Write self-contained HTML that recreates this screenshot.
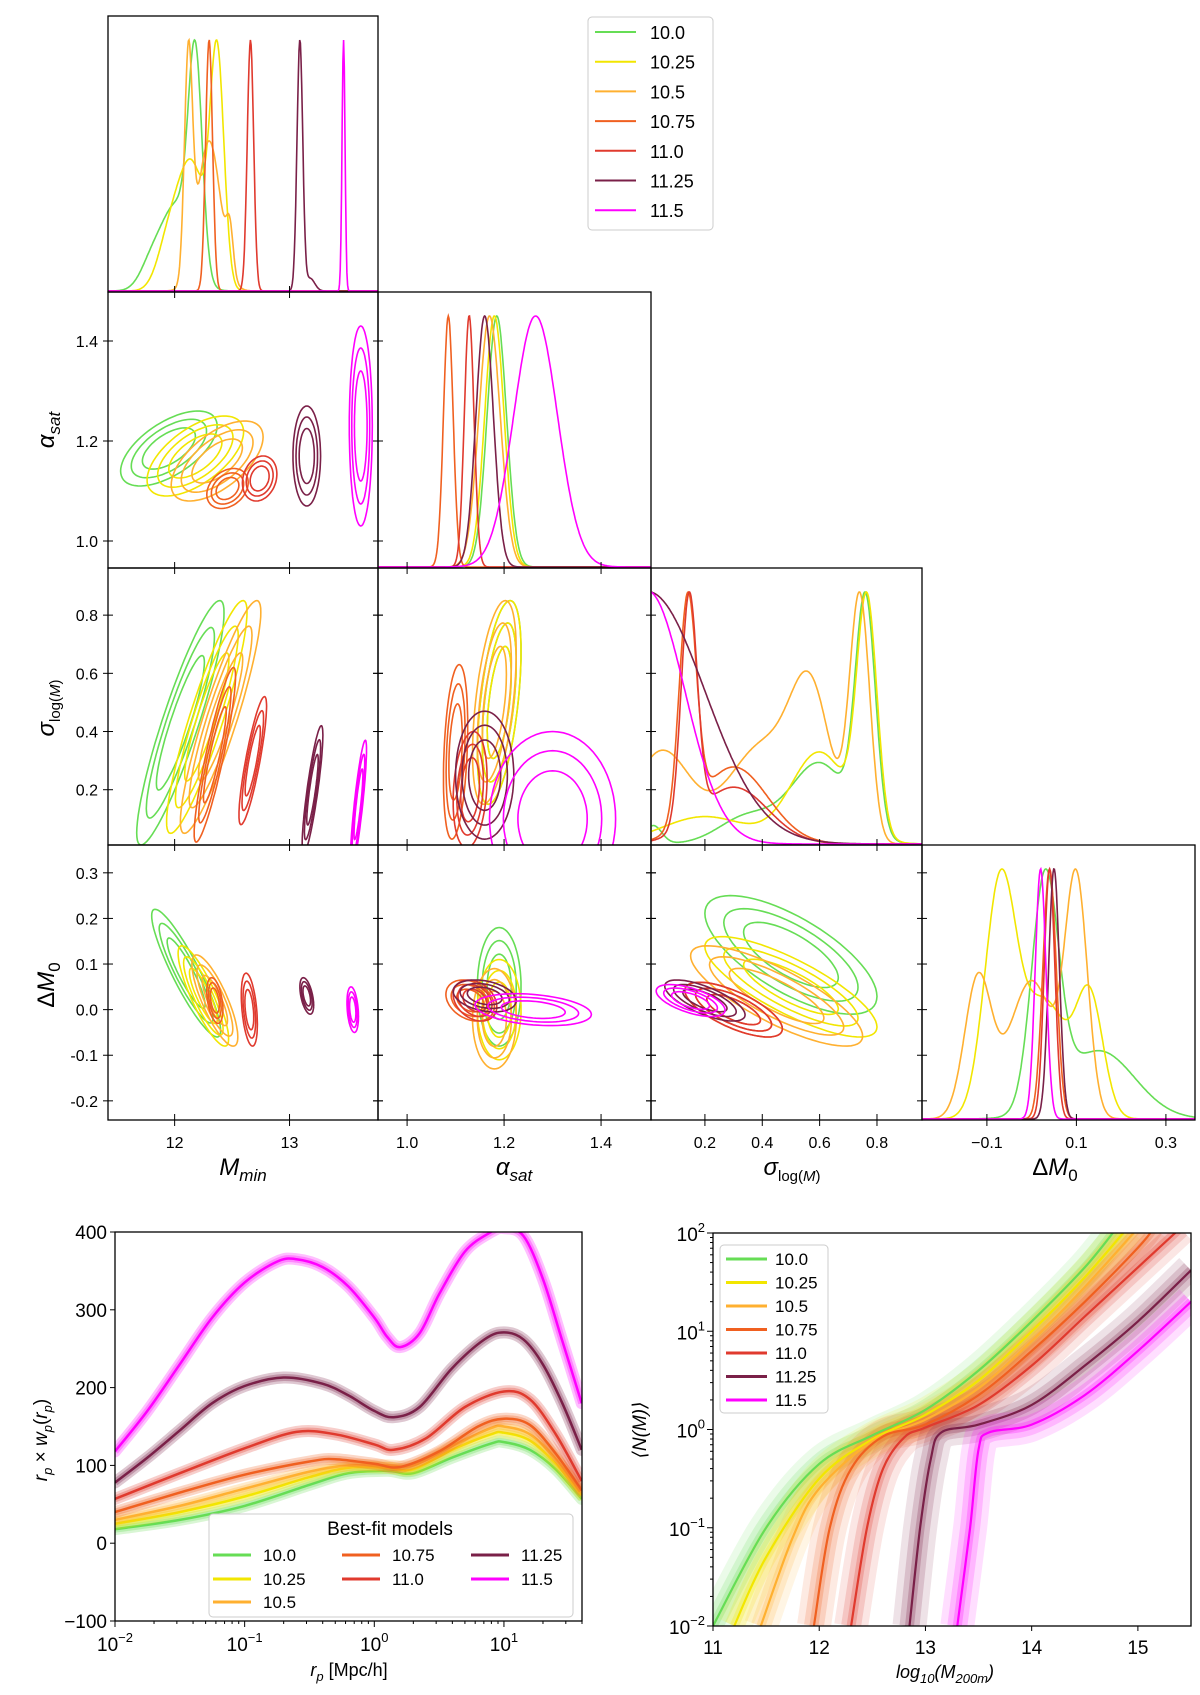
<!DOCTYPE html>
<html><head><meta charset="utf-8"><style>
body{margin:0;background:#fff;}
svg text{font-family:"Liberation Sans","DejaVu Sans",sans-serif;fill:#000;}
</style></head><body>
<svg id="fig" width="1200" height="1690" viewBox="0 0 1200 1690" xmlns="http://www.w3.org/2000/svg">
<defs id="defs"></defs>
<g id="root"></g>
</svg>
<script>
// ---------- data ----------
const seriesNames = ['10.0','10.25','10.5','10.75','11.0','11.25','11.5'];
const seriesColors = ['#66dd55','#f2e600','#ffb030','#f06020','#e03a2e','#7a2048','#ff00ff'];
// 1D marginals: gaussian components [mean, sd, amp]
const mminComps = [[[12.18,0.06,1],[12.02,0.13,0.4],[11.8,0.1,0.12]],[[12.37,0.06,1],[12.15,0.12,0.55],[11.95,0.1,0.2]],[[12.12,0.035,1],[12.3,0.1,0.68],[12.48,0.03,0.2]],[[12.3,0.03,1]],[[12.66,0.028,1]],[[13.09,0.025,1],[13.18,0.04,0.05]],[[13.47,0.013,1]]];
const alphaComps = [[[1.185,0.02,1]],[[1.18,0.02,1]],[[1.17,0.022,1]],[[1.085,0.01,1]],[[1.128,0.01,1]],[[1.16,0.018,1]],[[1.265,0.045,1]]];
const sigmaComps = [[[0.76,0.035,1],[0.6,0.1,0.35],[0.35,0.1,0.12],[0.02,0.03,0.08]],[[0.765,0.035,1],[0.6,0.1,0.4],[0.2,0.15,0.12]],[[0.74,0.035,1],[0.57,0.07,0.55],[0.4,0.12,0.4],[0.05,0.1,0.38]],[[0.14,0.03,1],[0.3,0.12,0.35]],[[0.145,0.028,1],[0.3,0.12,0.25]],[[0.0,0.2,1]],[[0.0,0.13,1]]];
const dm0Comps = [[[0.03,0.03,1],[0.15,0.08,0.3]],[[-0.07,0.035,1],[0.13,0.03,0.5],[0.03,0.05,0.5]],[[0.1,0.025,1],[-0.12,0.03,0.6],[0.0,0.05,0.6]],[[0.04,0.015,1]],[[0.04,0.012,1]],[[0.05,0.012,1]],[[0.02,0.012,1]]];
// 2D contours: [cx, cy, sx, sy, rho] (outer level half-extents)
const alphaVsMmin = [[11.95,1.185,0.42,0.075,0.6],[12.18,1.17,0.42,0.08,0.6],[12.37,1.16,0.4,0.08,0.6],[12.46,1.105,0.18,0.04,0.3],[12.74,1.125,0.15,0.045,0.2],[13.15,1.17,0.12,0.1,0.0],[13.62,1.23,0.1,0.2,0.0]];
const sigmaVsMmin = [[12.05,0.43,0.38,0.42,0.9],[12.28,0.45,0.35,0.4,0.9],[12.4,0.45,0.35,0.4,0.9],[12.35,0.32,0.18,0.3,0.9],[12.68,0.3,0.12,0.22,0.85],[13.2,0.2,0.09,0.22,0.85],[13.6,0.15,0.07,0.22,0.85]];
const dm0VsMmin = [[12.1,0.08,0.3,0.14,-0.9],[12.25,0.03,0.22,0.11,-0.85],[12.35,0.02,0.2,0.1,-0.8],[12.35,0.02,0.07,0.05,-0.4],[12.65,0.0,0.07,0.08,-0.4],[13.15,0.03,0.06,0.04,-0.5],[13.55,0.0,0.05,0.05,-0.3]];
const sigmaVsAlpha = [[1.19,0.5,0.045,0.35,0.5],[1.19,0.5,0.045,0.35,0.5],[1.18,0.5,0.045,0.35,0.5],[1.1,0.33,0.025,0.3,0.3],[1.13,0.2,0.035,0.2,0.2],[1.16,0.25,0.06,0.22,0.0],[1.3,0.1,0.13,0.3,0.0]];
const dm0VsAlpha = [[1.19,0.05,0.045,0.13,0.0],[1.19,0.0,0.045,0.11,0.0],[1.18,-0.02,0.045,0.11,0.0],[1.13,0.02,0.05,0.045,-0.3],[1.14,0.02,0.045,0.045,-0.3],[1.16,0.03,0.065,0.035,-0.3],[1.26,0.0,0.12,0.035,-0.3]];
const dm0VsSigma = [[0.5,0.12,0.3,0.13,-0.7],[0.5,0.05,0.3,0.11,-0.8],[0.45,0.03,0.3,0.11,-0.8],[0.3,0.0,0.17,0.06,-0.7],[0.3,0.0,0.17,0.06,-0.7],[0.2,0.02,0.14,0.045,-0.7],[0.15,0.02,0.12,0.035,-0.6]];
// projected clustering: log10(rp) sample points and r_p*w_p values
const wpLogR = [[-2,-1.5,-1,-0.5,-0.2,0.1,0.3,0.6,0.9,1.0,1.2,1.4,1.6],[-2,-1.5,-1,-0.5,-0.2,0.1,0.3,0.6,0.9,1.0,1.2,1.4,1.6],[-2,-1.5,-1,-0.5,-0.2,0.1,0.3,0.6,0.9,1.0,1.2,1.4,1.6],[-2,-1.5,-1,-0.5,-0.3,0,0.2,0.5,0.8,1.0,1.2,1.4,1.6],[-2,-1.5,-1,-0.6,-0.3,0,0.15,0.4,0.7,1.0,1.2,1.4,1.6],[-2,-1.75,-1.5,-1.25,-1,-0.7,-0.4,-0.2,0,0.15,0.35,0.6,0.85,1.0,1.15,1.3,1.45,1.6],[-2,-1.75,-1.5,-1.25,-1,-0.75,-0.6,-0.4,-0.2,0,0.1,0.2,0.35,0.5,0.7,0.9,1.0,1.15,1.3,1.45,1.6]];
const wpValues = [[18,30,48,75,90,93,90,110,128,130,120,95,57],[25,40,60,85,97,97,95,120,140,142,132,102,62],[30,48,70,92,100,100,100,125,148,150,140,108,65],[40,65,88,105,108,102,98,118,150,160,152,115,68],[57,90,122,143,140,127,120,135,175,195,185,140,80],[78,110,145,180,202,213,205,190,170,162,175,225,262,271,262,230,180,120],[118,170,230,290,335,362,365,355,330,290,265,252,270,320,375,400,405,395,340,260,180]];
// HOD: log10 M sample points and log10 <N(M)>
const hodLogM = [[11,11.5,12,12.5,13,13.5,14,14.5,14.8],[11.2,11.5,12,12.5,13,13.5,14,14.5,14.9],[11.45,11.75,12,12.5,13,13.5,14,14.5,15.0],[11.95,12.1,12.3,12.6,13,13.5,14,14.5,15,15.15],[12.3,12.45,12.6,12.8,13,13.5,14,14.5,15,15.4],[12.85,12.95,13.05,13.15,13.5,14,14.5,15,15.5],[13.3,13.42,13.5,13.6,14,14.5,15,15.5]];
const hodLogN = [[-2,-1.0,-0.35,-0.06,0.2,0.6,1.1,1.65,2.05],[-2,-1.3,-0.5,-0.1,0.15,0.5,1.0,1.55,2.05],[-2,-1.1,-0.6,-0.12,0.1,0.42,0.9,1.45,2.05],[-2,-1,-0.4,-0.07,0.05,0.35,0.8,1.3,1.85,2.05],[-2,-1,-0.4,-0.08,0.02,0.25,0.65,1.15,1.65,2.05],[-2,-1,-0.3,-0.03,0.05,0.25,0.65,1.1,1.62],[-2,-1,-0.2,-0.03,0.05,0.35,0.8,1.3]];
const mminTicks=[12,13], alphaTicks=[1.0,1.2,1.4], sigmaTicks=[0.2,0.4,0.6,0.8], dm0Ticks=[-0.1,0.1,0.3], dm0YTicks=[0.3,0.2,0.1,0.0,-0.1,-0.2];
const wpYTicks=[400,300,200,100,0,-100], wpXTicks=[-2,-1,0,1], hodXTicks=[11,12,13,14,15], hodYTicks=[2,1,0,-1,-2];

// ---------- helpers ----------
const NS='http://www.w3.org/2000/svg';
const root=document.getElementById('root'), defs=document.getElementById('defs');
function mk(tag,attrs,parent){const e=document.createElementNS(NS,tag);for(const k in attrs)e.setAttribute(k,attrs[k]);(parent||root).appendChild(e);return e;}
function txt(s,x,y,size,anchor,parent,extra){const t=mk('text',Object.assign({x:x,y:y,'font-size':size,'text-anchor':anchor||'middle'},extra||{}),parent);t.textContent=s;return t;}
function lin(d0,d1,p0,p1){return v=>p0+(v-d0)*(p1-p0)/(d1-d0);}
let clipId=0;
function clipFor(x0,y0,x1,y1){const id='c'+(clipId++);const cp=mk('clipPath',{id:id},defs);mk('rect',{x:x0,y:y0,width:x1-x0,height:y1-y0},cp);return 'url(#'+id+')';}
function catmull(pts){let d='M'+pts[0][0].toFixed(1)+','+pts[0][1].toFixed(1);for(let i=0;i<pts.length-1;i++){const p0=pts[Math.max(0,i-1)],p1=pts[i],p2=pts[i+1],p3=pts[Math.min(pts.length-1,i+2)];const c1=[p1[0]+(p2[0]-p0[0])/6,p1[1]+(p2[1]-p0[1])/6],c2=[p2[0]-(p3[0]-p1[0])/6,p2[1]-(p3[1]-p1[1])/6];d+=' C'+c1[0].toFixed(1)+','+c1[1].toFixed(1)+' '+c2[0].toFixed(1)+','+c2[1].toFixed(1)+' '+p2[0].toFixed(1)+','+p2[1].toFixed(1);}return d;}

// ---------- corner plot ----------
const XE=[108,378,651,922,1195], YE=[16,292,568,845,1120];
const ranges={mmin:[11.42,13.77],alpha:[0.94,1.503],sigma:[0.012,0.957],dm0:[-0.245,0.365]};
const yranges={alpha:[0.946,1.498],sigma:[0.01,0.962],dm0:[-0.242,0.361]};
const params=['mmin','alpha','sigma','dm0'];
const xTicksFor={mmin:mminTicks,alpha:alphaTicks,sigma:sigmaTicks,dm0:dm0Ticks};
const yTicksFor={alpha:[1.4,1.2,1.0],sigma:[0.8,0.6,0.4,0.2],dm0:dm0YTicks};
const compsFor={mmin:mminComps,alpha:alphaComps,sigma:sigmaComps,dm0:dm0Comps};
const pairData={'1_0':alphaVsMmin,'2_0':sigmaVsMmin,'3_0':dm0VsMmin,'2_1':sigmaVsAlpha,'3_1':dm0VsAlpha,'3_2':dm0VsSigma};
function fmt(v,p){return (v<0?'\u2212':'')+Math.abs(v).toFixed(p);}

for(let r=0;r<4;r++){for(let c=0;c<=r;c++){
  const x0=XE[c],x1=XE[c+1],y0=YE[r],y1=YE[r+1];
  const g=mk('g',{});
  
  
  const xs=lin(ranges[params[c]][0],ranges[params[c]][1],x0,x1);
  const cg=mk('g',{'clip-path':clipFor(x0,y0,x1,y1)},g);
  if(r===c){
    const comps=compsFor[params[c]];
    const lo=ranges[params[c]][0],hi=ranges[params[c]][1];
    comps.forEach((cs,si)=>{
      const vals=[];let mx=0;
      for(let i=0;i<=400;i++){const v=lo+(hi-lo)*i/400;let s=0;cs.forEach(q=>{s+=q[2]*Math.exp(-0.5*((v-q[0])/q[1])**2);});vals.push([v,s]);if(s>mx)mx=s;}
      const ys=lin(0,mx,y1-1,y0+24);
      let d='';vals.forEach((p,i)=>{d+=(i?'L':'M')+xs(p[0]).toFixed(1)+','+ys(p[1]).toFixed(1);});
      const path=mk('path',{d:d,fill:'none',stroke:seriesColors[si],'stroke-width':1.6},cg);
      
      
    });
  } else {
    const ys=lin(yranges[params[r]][0],yranges[params[r]][1],y1,y0);
    pairData[r+'_'+c].forEach((e,si)=>{
      [0.55,0.78,1.0].forEach(k=>{
        let d='';const s=Math.sqrt(1-e[4]*e[4]);
        for(let i=0;i<=72;i++){const t=i/72*2*Math.PI;const vx=e[0]+k*e[2]*Math.cos(t);const vy=e[1]+k*e[3]*(e[4]*Math.cos(t)+s*Math.sin(t));d+=(i?'L':'M')+xs(vx).toFixed(1)+','+ys(vy).toFixed(1);}
        const p=mk('path',{d:d+'Z',fill:'none',stroke:seriesColors[si],'stroke-width':1.6},cg);
        
        
      });
    });
    yTicksFor[params[r]].forEach(v=>{const y=ys(v);mk('line',{x1:x0-5,x2:x0+5,y1:y,y2:y,stroke:'#000','stroke-width':1},g);mk('line',{x1:x1-5,x2:x1+5,y1:y,y2:y,stroke:'#000','stroke-width':1},g);
      if(c===0){const t=txt(v.toFixed(1),x0-10,y+6,16,'end',g);}});
  }
  xTicksFor[params[c]].forEach(v=>{const x=xs(v);mk('line',{x1:x,x2:x,y1:y1-6,y2:y1+6,stroke:'#000','stroke-width':1},g);
    if(r===3){const t=txt(params[c]==='mmin'?String(v):(params[c]==='alpha'?v.toFixed(1):fmt(v,1)),x,y1+28,16,'middle',g);}});
  mk('rect',{x:x0,y:y0,width:x1-x0,height:y1-y0,fill:'none',stroke:'#000','stroke-width':1.3},g);
}}
// corner axis labels
function addLabel(html,x,y,rot,name){const t=mk('text',{x:x,y:y,'font-size':24,'text-anchor':'middle',transform:rot?('rotate(-90 '+x+' '+y+')'):''});t.innerHTML=html;return t;}
addLabel('<tspan font-style="italic">M</tspan><tspan font-size="17" dy="6" font-style="italic">min</tspan>',243,1175,false,'x-axis-title-mmin');
addLabel('<tspan font-style="italic">α</tspan><tspan font-size="17" dy="6" font-style="italic">sat</tspan>',514,1175,false,'x-axis-title-alpha');
addLabel('<tspan font-style="italic">σ</tspan><tspan font-size="15" dy="6">log(</tspan><tspan font-size="15" font-style="italic">M</tspan><tspan font-size="15">)</tspan>',792,1175,false,'x-axis-title-sigma');
addLabel('Δ<tspan font-style="italic">M</tspan><tspan font-size="17" dy="6">0</tspan>',1055,1175,false,'x-axis-title-dm0');
addLabel('<tspan font-style="italic">α</tspan><tspan font-size="17" dy="6" font-style="italic">sat</tspan>',54,430,true,'y-axis-title-alpha');
addLabel('<tspan font-style="italic">σ</tspan><tspan font-size="15" dy="6">log(</tspan><tspan font-size="15" font-style="italic">M</tspan><tspan font-size="15">)</tspan>',54,708,true,'y-axis-title-sigma');
addLabel('Δ<tspan font-style="italic">M</tspan><tspan font-size="17" dy="6">0</tspan>',54,985,true,'y-axis-title-dm0');
// corner legend
(function(){const g=mk('g',{});
mk('rect',{x:588,y:17,width:125,height:213,rx:4,fill:'#fff',stroke:'#ccc','stroke-width':1},g);
seriesNames.forEach((n,i)=>{const y=32+i*29.7;const e=mk('g',{},g);
mk('line',{x1:595,x2:636,y1:y,y2:y,stroke:seriesColors[i],'stroke-width':2},e);txt(n,650,y+7,18,'start',e);});})();

// ---------- wp panel ----------
(function(){
const X0=115,X1=582,Y0=1232,Y1=1621;
const g=mk('g',{});
const xs=lin(-2,Math.log10(40),X0,X1), ys=lin(-100,400,Y1,Y0);
const cg=mk('g',{'clip-path':clipFor(X0,Y0,X1,Y1)},g);
seriesNames.forEach((n,si)=>{
  const pts=wpLogR[si].map((lx,i)=>[xs(lx),ys(wpValues[si][i])]);const d=catmull(pts);
  mk('path',{d:d,fill:'none',stroke:seriesColors[si],'stroke-width':12,'stroke-opacity':0.25,'stroke-linecap':'round'},cg);
  mk('path',{d:d,fill:'none',stroke:seriesColors[si],'stroke-width':7,'stroke-opacity':0.3},cg);
  const l=mk('path',{d:d,fill:'none',stroke:seriesColors[si],'stroke-width':2.5},cg);
  
});
mk('rect',{x:X0,y:Y0,width:X1-X0,height:Y1-Y0,fill:'none',stroke:'#000','stroke-width':1.3},g);
wpYTicks.forEach(v=>{const y=ys(v);mk('line',{x1:X0-5,x2:X0,y1:y,y2:y,stroke:'#000'},g);const t=txt(v<0?'\u2212'+(-v):String(v),X0-8,y+7,19,'end',g);});
for(let dec=-2;dec<=1;dec++){for(let m=1;m<10;m++){const lx=dec+Math.log10(m);if(lx>Math.log10(40))break;const x=xs(lx);mk('line',{x1:x,x2:x,y1:Y1,y2:Y1+(m===1?6:3),stroke:'#000'},g);}}
wpXTicks.forEach(v=>{const t=mk('text',{x:xs(v),y:Y1+30,'font-size':19,'text-anchor':'middle'},g);t.innerHTML='10<tspan font-size="13" dy="-9">'+(v<0?'\u2212'+(-v):v)+'</tspan>';});
const xl=mk('text',{x:349,y:1676,'font-size':18,'text-anchor':'middle'},g);xl.innerHTML='<tspan font-style="italic">r</tspan><tspan font-size="13" dy="5" font-style="italic">p</tspan><tspan dy="-5"> [Mpc/h]</tspan>';
const yl=mk('text',{x:47,y:1440,'font-size':19,'text-anchor':'middle',transform:'rotate(-90 47 1440)'},g);yl.innerHTML='<tspan font-style="italic">r</tspan><tspan font-size="13" dy="5" font-style="italic">p</tspan><tspan dy="-5"> × </tspan><tspan font-style="italic">w</tspan><tspan font-size="13" dy="5" font-style="italic">p</tspan><tspan dy="-5">(</tspan><tspan font-style="italic">r</tspan><tspan font-size="13" dy="5" font-style="italic">p</tspan><tspan dy="-5">)</tspan>';
const lg=mk('g',{},g);
mk('rect',{x:209,y:1514,width:364,height:103,rx:4,fill:'#fff','fill-opacity':0.9,stroke:'#ccc'},lg);
txt('Best-fit models',390,1535,19,'middle',lg);
const pos=[[213,1555],[213,1579],[213,1602],[342,1555],[342,1579],[471,1555],[471,1579]];
seriesNames.forEach((n,i)=>{const e=mk('g',{},lg);
mk('line',{x1:pos[i][0],x2:pos[i][0]+38,y1:pos[i][1],y2:pos[i][1],stroke:seriesColors[i],'stroke-width':3},e);txt(n,pos[i][0]+50,pos[i][1]+6,17,'start',e);});
})();

// ---------- HOD panel ----------
(function(){
const X0=713,X1=1191,Y0=1233,Y1=1626;
const g=mk('g',{});
const xs=lin(11,15.5,X0,X1), ys=lin(-2,2,Y1,Y0);
const cg=mk('g',{'clip-path':clipFor(X0,Y0,X1,Y1)},g);
seriesNames.forEach((n,si)=>{
  const pts=hodLogM[si].map((lm,i)=>[xs(lm),ys(hodLogN[si][i])]);const d=catmull(pts);
  mk('path',{d:d,fill:'none',stroke:seriesColors[si],'stroke-width':34,'stroke-opacity':0.13},cg);
  mk('path',{d:d,fill:'none',stroke:seriesColors[si],'stroke-width':20,'stroke-opacity':0.18},cg);
  mk('path',{d:d,fill:'none',stroke:seriesColors[si],'stroke-width':9,'stroke-opacity':0.25},cg);
});
seriesNames.forEach((n,si)=>{
  const pts=hodLogM[si].map((lm,i)=>[xs(lm),ys(hodLogN[si][i])]);
  const l=mk('path',{d:catmull(pts),fill:'none',stroke:seriesColors[si],'stroke-width':2.2},cg);
  
});
mk('rect',{x:X0,y:Y0,width:X1-X0,height:Y1-Y0,fill:'none',stroke:'#000','stroke-width':1.3},g);
hodXTicks.forEach(v=>{const x=xs(v);mk('line',{x1:x,x2:x,y1:Y1,y2:Y1+5,stroke:'#000'},g);const t=txt(String(v),x,Y1+28,19,'middle',g);});
for(let dec=-2;dec<2;dec++){for(let m=2;m<10;m++){const y=ys(dec+Math.log10(m));mk('line',{x1:X0-3,x2:X0,y1:y,y2:y,stroke:'#000'},g);}}
hodYTicks.forEach(v=>{const y=ys(v);mk('line',{x1:X0-6,x2:X0,y1:y,y2:y,stroke:'#000'},g);const t=mk('text',{x:X0-8,y:y+8,'font-size':19,'text-anchor':'end'},g);t.innerHTML='10<tspan font-size="13" dy="-9">'+(v<0?'\u2212'+(-v):v)+'</tspan>';});
const xl=mk('text',{x:945,y:1678,'font-size':18,'text-anchor':'middle','font-style':'italic'},g);xl.innerHTML='log<tspan font-size="13" dy="5">10</tspan><tspan dy="-5">(M</tspan><tspan font-size="13" dy="5">200m</tspan><tspan dy="-5">)</tspan>';
const yl=txt('\u27E8N(M)\u27E9',646,1430,19,'middle',g,{transform:'rotate(-90 646 1430)','font-style':'italic'});
const lg=mk('g',{},g);
mk('rect',{x:720,y:1245,width:108,height:168,rx:4,fill:'#fff','fill-opacity':0.9,stroke:'#ccc'},lg);
seriesNames.forEach((n,i)=>{const y=1259+i*23.5;const e=mk('g',{},lg);
mk('line',{x1:726,x2:767,y1:y,y2:y,stroke:seriesColors[i],'stroke-width':3},e);txt(n,775,y+6,17,'start',e);});
})();
</script>
</body></html>
